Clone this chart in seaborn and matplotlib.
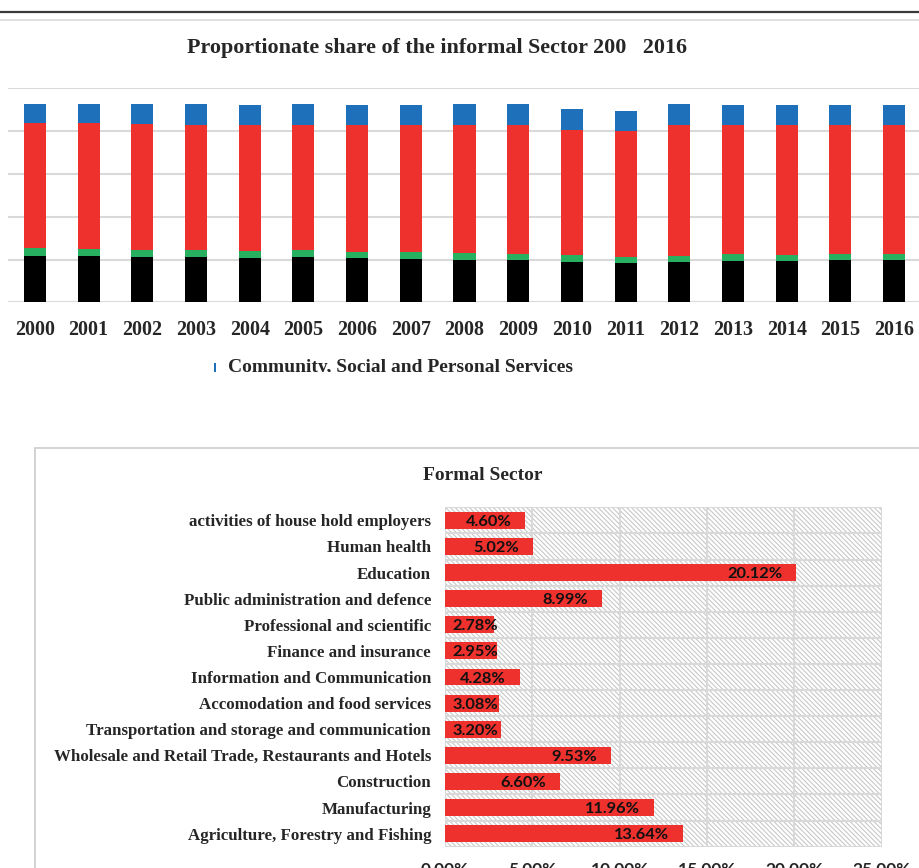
import numpy as np
import matplotlib
matplotlib.use("Agg")
import matplotlib.pyplot as plt
from matplotlib.patches import Rectangle
from matplotlib.lines import Line2D
import seaborn as sns

# ---- informal sector: stacked shares per year (percent) ----
years = [str(y) for y in range(2000, 2017)]
layer_bottom = [21.8, 21.6, 21.3, 21.0, 20.8, 21.0, 20.6, 20.2, 19.9, 19.8,
                19.0, 18.4, 18.7, 19.4, 19.3, 19.6, 19.6]
layer_second = [3.7, 3.4, 3.3, 3.3, 3.2, 3.3, 3.0, 3.2, 3.1, 2.9,
                3.0, 2.9, 3.1, 3.0, 2.9, 3.0, 3.1]
layer_third = [58.1, 58.6, 58.6, 58.7, 59.0, 58.7, 59.3, 59.3, 59.9, 60.0,
               58.4, 58.6, 60.9, 60.3, 60.5, 60.1, 60.0]
community_services = [8.9, 8.9, 9.3, 9.5, 9.3, 9.5, 9.4, 9.6, 9.6, 9.8,
                      9.8, 9.4, 9.8, 9.6, 9.6, 9.6, 9.6]
legend_label = "Community, Social and Personal Services"
top_title = "Proportionate share of the informal Sector 200   2016"

# ---- formal sector: share by industry (percent) ----
formal_sectors = [
    "activities of house hold employers",
    "Human health",
    "Education",
    "Public administration and defence",
    "Professional and scientific",
    "Finance and insurance",
    "Information and Communication",
    "Accomodation and food services",
    "Transportation and storage and communication",
    "Wholesale and Retail Trade, Restaurants and Hotels",
    "Construction",
    "Manufacturing",
    "Agriculture, Forestry and Fishing",
]
formal_shares = [4.60, 5.02, 20.12, 8.99, 2.78, 2.95, 4.28, 3.08, 3.20,
                 9.53, 6.60, 11.96, 13.64]
formal_ticks = [0, 5, 10, 15, 20, 25]

BLACK = "#000000"
GREEN = "#27b060"
RED = "#ee312d"
BLUE = "#1e70ba"
GRID = "#d9d9d9"
SERIF = "Liberation Serif"
SANS = "Lato"

sns.set_style("white")
plt.rcParams["hatch.color"] = "#c8c8c8"
plt.rcParams["hatch.linewidth"] = 0.8

W, H = 920, 868
fig = plt.figure(figsize=(W / 100, H / 100), dpi=100)


def fx(px):
    return px / W


def fy(py):
    return 1 - py / H


# rules framing the upper panel
fig.add_artist(Line2D([0, 1], [fy(11.7), fy(11.7)], transform=fig.transFigure,
                      color="#3a3a3a", lw=1.6))
fig.add_artist(Line2D([0, 1], [fy(20.3), fy(20.3)], transform=fig.transFigure,
                      color=GRID, lw=1.2))

fig.text(fx(437), fy(48), top_title, ha="center", va="center",
         fontsize=15.8, fontweight="bold", family=SERIF)

# ---- upper stacked chart ----
ax1 = fig.add_axes([fx(8), fy(302.3), fx(913), 214 / H])
cum = np.cumsum([layer_bottom, layer_second, layer_third, community_services], axis=0)
for vals, col in [(cum[3], BLUE), (cum[2], RED), (cum[1], GREEN), (cum[0], BLACK)]:
    sns.barplot(x=years, y=vals, color=col, saturation=1, width=0.41,
                errorbar=None, ax=ax1, linewidth=0)
ax1.set_xlim(-0.5, 16.5)
ax1.set_ylim(0, 100)
ax1.set_yticks(range(0, 101, 20))
ax1.set_axisbelow(True)
ax1.yaxis.grid(True, color=GRID, lw=1.5)
ax1.set_xlabel("")
ax1.set_ylabel("")
for s in ax1.spines.values():
    s.set_visible(False)
ax1.tick_params(axis="y", left=False, labelleft=False)
ax1.tick_params(axis="x", bottom=False, pad=9)
for lab in ax1.get_xticklabels():
    lab.set_fontfamily(SERIF)
    lab.set_fontweight("bold")
    lab.set_fontsize(14.4)

# legend entry (cut off by the panel edge below)
fig.add_artist(Rectangle((fx(214), fy(375)), fx(2.5), 12 / H, transform=fig.transFigure,
                         facecolor=BLUE, edgecolor="none"))
fig.text(fx(228), fy(359), legend_label, ha="left", va="top",
         fontsize=14.0, fontweight="bold", family=SERIF)
fig.add_artist(Rectangle((0, fy(440)), 1, 68 / H, transform=fig.transFigure,
                         facecolor="white", edgecolor="none", zorder=10))

# ---- lower panel frame ----
fig.add_artist(Rectangle((fx(35), fy(880)), fx(900), 431.7 / H, transform=fig.transFigure,
                         facecolor="none", edgecolor="#d0d0d0", lw=1.3, zorder=1))
fig.text(fx(483), fy(475), "Formal Sector", ha="center", va="center",
         fontsize=14, fontweight="bold", family=SERIF)

# ---- lower horizontal bar chart ----
ax2 = fig.add_axes([fx(445), fy(846.7), fx(436.7), 339.4 / H])
ax2.add_patch(Rectangle((0, 0), 1, 1, transform=ax2.transAxes, facecolor="white",
                        edgecolor="#c8c8c8", hatch="\\\\\\\\\\\\\\", lw=0, zorder=0.1))
sns.barplot(x=formal_shares, y=formal_sectors, orient="h", color=RED, saturation=1,
            width=0.65, errorbar=None, ax=ax2, linewidth=0, zorder=2)
ax2.set_xlim(0, 25)
ax2.set_ylim(len(formal_sectors) - 0.5, -0.5)
ax2.set_xticks(formal_ticks)
ax2.set_xticklabels([f"{t:.2f}%" for t in formal_ticks])
ax2.set_yticks(np.arange(-0.5, len(formal_sectors), 1), minor=True)
ax2.set_axisbelow(True)
ax2.xaxis.grid(True, color=GRID, lw=1.5)
ax2.yaxis.grid(True, which="minor", color=GRID, lw=1.5)
ax2.yaxis.grid(False, which="major")
ax2.set_xlabel("")
ax2.set_ylabel("")
for s in ax2.spines.values():
    s.set_visible(False)
ax2.tick_params(axis="both", which="both", length=0)
ax2.tick_params(axis="y", pad=10)
ax2.tick_params(axis="x", pad=11)
for lab in ax2.get_yticklabels():
    lab.set_fontfamily(SERIF)
    lab.set_fontweight("bold")
    lab.set_fontsize(12.2)
for lab in ax2.get_xticklabels():
    lab.set_fontfamily(SANS)
    lab.set_fontweight("bold")
    lab.set_fontsize(12.5)

for i, v in enumerate(formal_shares):
    x_right = max(v - 0.8, 3.05)
    ax2.text(x_right, i, f"{v:.2f}%", ha="right", va="center_baseline", fontsize=11.8,
             fontweight="bold", family=SANS, color="#111111", zorder=3)

fig.savefig("out.png", dpi=100)
